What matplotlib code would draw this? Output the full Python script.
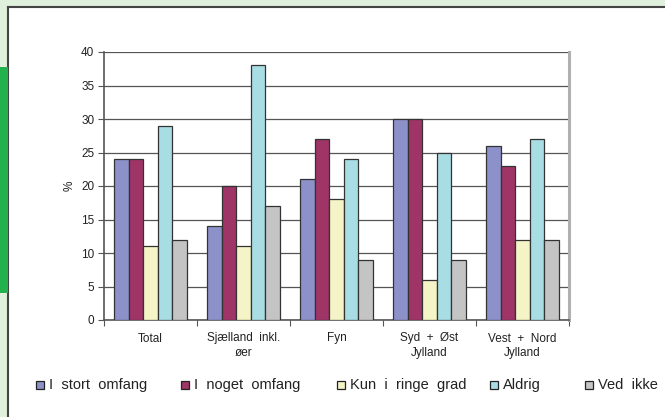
import matplotlib
matplotlib.use('Agg')

import matplotlib.pyplot as plt
from matplotlib.patches import Rectangle
import numpy as np

# data
categories = ['Total', 'Sjælland  inkl.\nøer', 'Fyn', 'Syd  +  Øst\nJylland', 'Vest  +  Nord\nJylland']
series_names = ['I  stort  omfang', 'I  noget  omfang', 'Kun  i  ringe  grad', 'Aldrig', 'Ved  ikke']
stort = [24, 14, 21, 30, 26]
noget = [24, 20, 27, 30, 23]
ringe = [11, 11, 18, 6, 12]
aldrig = [29, 38, 24, 25, 27]
ved_ikke = [12, 17, 9, 9, 12]
yticks = [0, 5, 10, 15, 20, 25, 30, 35, 40]

series = [stort, noget, ringe, aldrig, ved_ikke]
colors = ['#8c91c9', '#9f3466', '#f4f4c6', '#a9dde4', '#c4c4c4']

plt.rcParams['font.family'] = ['Liberation Sans', 'DejaVu Sans']

fig = plt.figure(figsize=(6.65, 4.17), dpi=100)
fig.patch.set_facecolor('#dff0dc')

# white panel with dark border on top/left, green tab on the left
fig.patches.append(Rectangle((8 / 665, 0), 1, 1 - 7 / 417, transform=fig.transFigure,
                             facecolor='white', edgecolor='none', zorder=-3))
fig.lines.append(plt.Line2D([8 / 665, 8 / 665], [0, 1 - 7 / 417], transform=fig.transFigure,
                            color='#444444', lw=1.5, zorder=-2))
fig.lines.append(plt.Line2D([8 / 665, 1], [1 - 7 / 417, 1 - 7 / 417], transform=fig.transFigure,
                            color='#444444', lw=1.5, zorder=-2))
fig.patches.append(Rectangle((0, 1 - 293 / 417), 7.5 / 665, (293 - 67) / 417, transform=fig.transFigure,
                             facecolor='#22b14c', edgecolor='none', zorder=-2))

ax = fig.add_axes([104 / 665, 1 - 320 / 417, (569 - 104) / 665, (320 - 52) / 417])
ax.set_zorder(2)
ax.set_facecolor('white')

x = np.arange(len(categories))
w = 0.155
for i, (vals, col) in enumerate(zip(series, colors)):
    ax.bar(x + (i - 2) * w, vals, width=w, color=col, edgecolor='#333333', linewidth=0.9, zorder=3)

ax.set_xlim(-0.5, len(categories) - 0.5)
ax.set_ylim(0, 40)
ax.set_yticks(yticks)
ax.yaxis.grid(True, color='#555555', linewidth=0.9, zorder=0)
ax.tick_params(axis='y', labelsize=8.5, length=4, color='#555555', labelcolor='#222222', pad=3)

ax.set_xticks(np.arange(len(categories) + 1) - 0.5)
ax.set_xticklabels([])
ax.set_xticks(x, minor=True)
ax.set_xticklabels(categories, minor=True, fontsize=8.5, color='#222222', linespacing=1.3)
ax.tick_params(axis='x', which='major', length=4, color='#555555', direction='out')
ax.tick_params(axis='x', which='minor', length=0, pad=9)

for side in ['left', 'bottom']:
    ax.spines[side].set_color('#555555')
    ax.spines[side].set_linewidth(1.2)
ax.spines['top'].set_visible(False)
ax.spines['right'].set_color('#b0b0b0')
ax.spines['right'].set_linewidth(2.2)

ax.set_ylabel('%', fontsize=8.5, color='#222222', labelpad=4)

# legend drawn by hand to keep the uneven spacing of the original
legend_x = [36, 181, 337, 490, 585]
legend_y = 385
for lx, name, col in zip(legend_x, series_names, colors):
    fig.patches.append(Rectangle((lx / 665, 1 - (legend_y + 4) / 417), 8 / 665, 8 / 417,
                                 transform=fig.transFigure, facecolor=col,
                                 edgecolor='#222222', linewidth=0.9, zorder=5))
    fig.text((lx + 13) / 665, 1 - legend_y / 417, name, fontsize=10.5, color='#222222',
             va='center', ha='left')

plt.savefig('out.png', dpi=100, facecolor=fig.get_facecolor())
plt.close()
